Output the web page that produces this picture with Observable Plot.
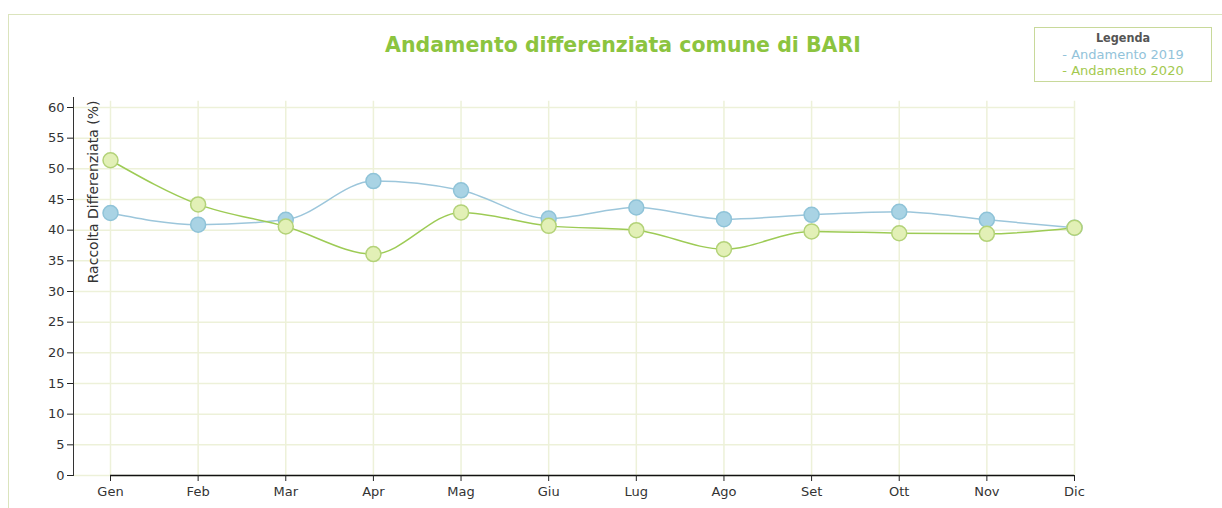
<!DOCTYPE html>
<html><head><meta charset="utf-8">
<script src="https://cdn.jsdelivr.net/npm/d3@7"></script>
<script src="https://cdn.jsdelivr.net/npm/@observablehq/plot@0.6"></script>
<style>
body{margin:0;background:#fff;}
#wrap{position:relative;width:1222px;height:508px;overflow:hidden;font-family:"DejaVu Sans",sans-serif;}
#frame{position:absolute;left:8px;top:14px;width:1300px;height:600px;border-left:1px solid #dbe4bd;border-top:1px solid #dbe4bd;}
#title{position:absolute;left:0;width:1246px;top:33px;text-align:center;font-family:"DejaVu Sans",sans-serif;font-weight:bold;font-size:20.5px;line-height:24px;color:#8cc43f;}
#legend{position:absolute;left:1034px;top:27px;width:176px;height:51px;border:1px solid #c8d99a;text-align:center;font-family:"DejaVu Sans",sans-serif;font-size:13px;line-height:16.5px;padding-top:2px;box-sizing:content-box;}
#legend .h{font-weight:bold;color:#555;font-family:"DejaVu Sans Condensed","DejaVu Sans",sans-serif;font-size:12.5px;}
#legend .a{color:#92c3da;}
#legend .b{color:#a3c94f;}
#chart{position:absolute;left:0;top:0;}
</style></head>
<body>
<div id="wrap">
  <div id="frame"></div>
  <div id="chart"></div>
  <div id="title">Andamento differenziata comune di BARI</div>
  <div id="legend"><div class="h">Legenda</div><div class="a">- Andamento 2019</div><div class="b">- Andamento 2020</div></div>
</div>
<script>
const months = ["Gen","Feb","Mar","Apr","Mag","Giu","Lug","Ago","Set","Ott","Nov","Dic"];
const values2019 = [42.8, 40.9, 41.7, 48.0, 46.5, 41.9, 43.7, 41.8, 42.5, 43.0, 41.7, 40.4];
const values2020 = [51.4, 44.2, 40.6, 36.1, 42.9, 40.7, 40.0, 36.9, 39.8, 39.5, 39.4, 40.4];
const yTicks = [0,5,10,15,20,25,30,35,40,45,50,55,60];
const yLabel = "Raccolta Differenziata (%)";

const d2019 = months.map((m,i)=>({month:m, value:values2019[i]}));
const d2020 = months.map((m,i)=>({month:m, value:values2020[i]}));
const grid = "#edf1d9";

const chart = Plot.plot({
  width: 1222,
  height: 508,
  marginLeft: 73,
  marginRight: 148,
  marginTop: 97,
  marginBottom: 33,
  style: {fontFamily: "DejaVu Sans, sans-serif", fontSize: "13px", color: "#333", background: "transparent"},
  x: {type: "point", domain: months, range: [110, 1074], padding: 0, round: false},
  y: {domain: [0, 60], range: [475, 107]},
  marks: [
    Plot.ruleY(yTicks, {stroke: grid, strokeWidth: 1.5}),
    Plot.ruleX(months, {y1: 0, y2: 61, stroke: grid, strokeWidth: 1.5}),
    Plot.frame({anchor: "left", stroke: "#333"}),
    Plot.ruleY([0], {x1: () => months[0], x2: () => months[months.length - 1], stroke: "#111", strokeWidth: 1.5}),
    Plot.axisY({ticks: yTicks, tickSize: 6, tickPadding: 3, label: null, stroke: "#222", fontSize: 13}),
    Plot.axisX({tickSize: 6, tickPadding: 5, label: null, stroke: "#222", fontSize: 13}),
    Plot.text([yLabel], {frameAnchor: "top-left", dx: 15, dy: 3, rotate: -90, textAnchor: "end", fill: "#333", fontSize: 14}),
    Plot.line(d2019, {x: "month", y: "value", curve: "monotone-x", stroke: "#9cc6db", strokeWidth: 1.5}),
    Plot.line(d2020, {x: "month", y: "value", curve: "monotone-x", stroke: "#9dcb55", strokeWidth: 1.5}),
    Plot.dot(d2019, {x: "month", y: "value", r: 7.5, fill: "#a9d3e4", stroke: "#8fc3d8", strokeWidth: 1.5}),
    Plot.dot(d2020, {x: "month", y: "value", r: 7.5, fill: "#e2f0b6", stroke: "#b3d278", strokeWidth: 1.5})
  ]
});
document.getElementById("chart").appendChild(chart);
</script>
</body></html>
